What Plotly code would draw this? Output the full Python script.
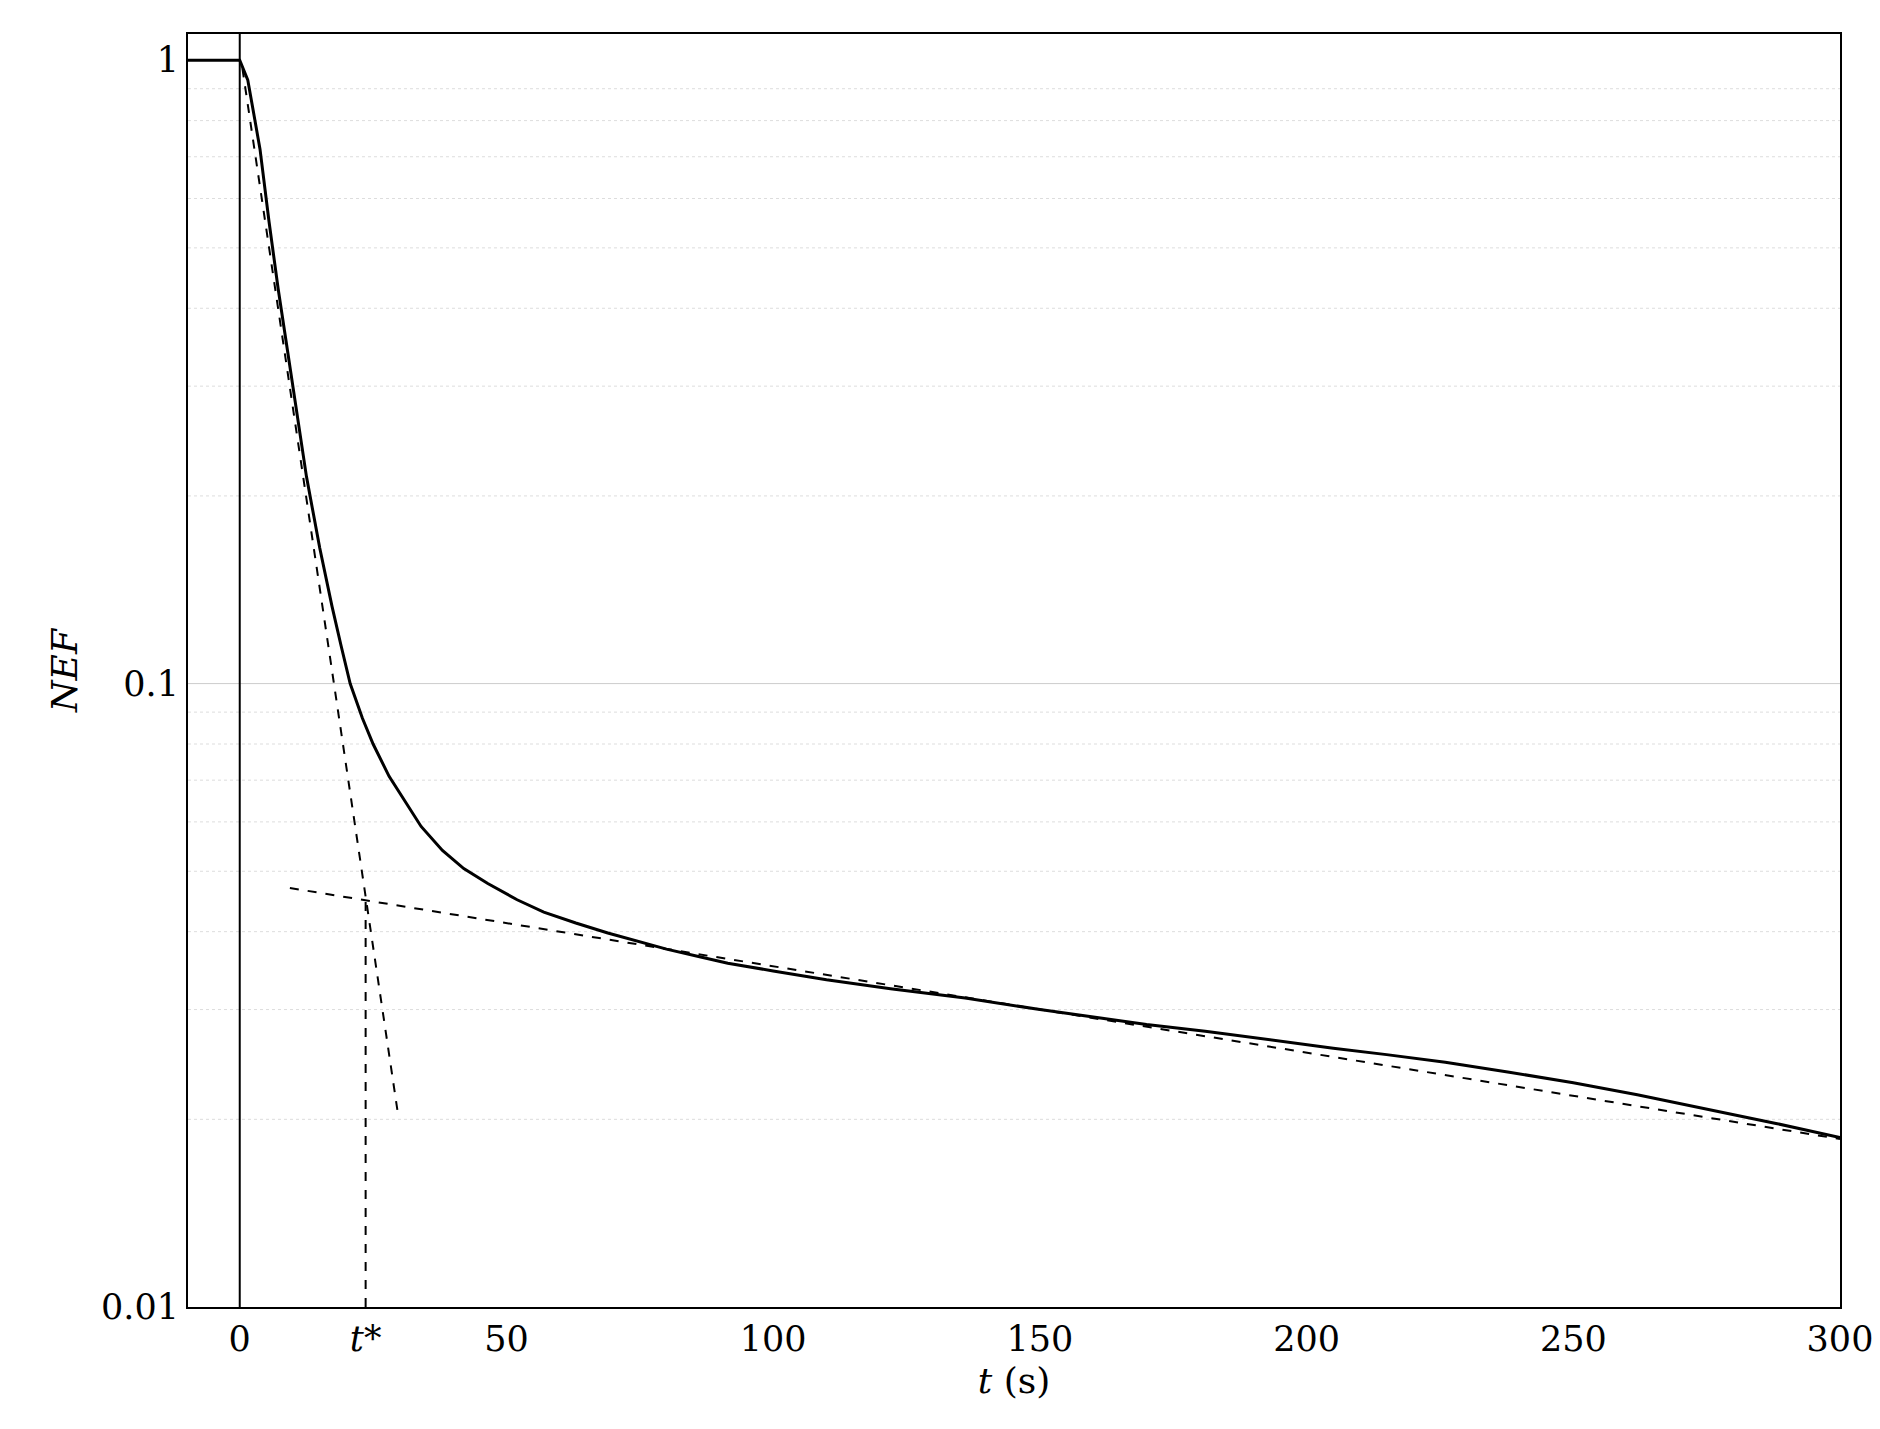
import plotly.graph_objects as go

# NEF decay curve
t_curve = [-10, 0, 1.5, 3.8, 5.5, 7.2, 9, 10.6, 12.5, 15, 17.3, 19, 20.7, 23, 25, 28, 30.8, 34, 38, 42, 46.5, 52, 57, 63, 69, 75, 80, 86, 91.5, 100, 110, 122, 136, 150, 160, 170, 181, 193, 205, 215, 226, 238, 250, 262, 275, 288, 300]
nef_curve = [1, 1, 0.93, 0.72, 0.55, 0.43, 0.34, 0.275, 0.215, 0.165, 0.133, 0.115, 0.100, 0.088, 0.080, 0.071, 0.065, 0.059, 0.054, 0.0505, 0.0478, 0.0450, 0.0430, 0.0413, 0.0398, 0.0385, 0.0375, 0.0365, 0.0356, 0.0346, 0.0335, 0.0324, 0.0313, 0.0300, 0.0292, 0.0284, 0.0277, 0.0268, 0.0260, 0.0254, 0.0247, 0.0238, 0.0229, 0.0219, 0.0208, 0.0197, 0.0187]

# tangent lines
steep_t = [0.5, 29.7]
steep_nef = [0.97, 0.0203]
slow_t = [9.4, 300]
slow_nef = [0.047, 0.0186]
t_star = 23.6
t_star_nef = [0.01, 0.046]

tick_vals = [0, t_star, 50, 100, 150, 200, 250, 300]
tick_text = ["0", "<i>t</i>*", "50", "100", "150", "200", "250", "300"]
grid_levels = [0.02, 0.03, 0.04, 0.05, 0.06, 0.07, 0.08, 0.09, 0.2, 0.3, 0.4, 0.5, 0.6, 0.7, 0.8, 0.9]

fig = go.Figure()

shapes = []
for g in grid_levels:
    shapes.append(dict(type="line", xref="paper", yref="y", x0=0, x1=1, y0=g, y1=g,
                       line=dict(color="#dddddd", width=1, dash="dot"), layer="below"))
shapes.append(dict(type="line", xref="paper", yref="y", x0=0, x1=1, y0=0.1, y1=0.1,
                   line=dict(color="#cccccc", width=1), layer="below"))
# vertical line at t = 0
shapes.append(dict(type="line", xref="x", yref="paper", x0=0, x1=0, y0=0, y1=1,
                   line=dict(color="black", width=2)))

fig.add_trace(go.Scatter(x=t_curve, y=nef_curve, mode="lines", line=dict(color="black", width=3)))
fig.add_trace(go.Scatter(x=steep_t, y=steep_nef, mode="lines", line=dict(color="black", width=2, dash="dash")))
fig.add_trace(go.Scatter(x=slow_t, y=slow_nef, mode="lines", line=dict(color="black", width=2, dash="dash")))
fig.add_trace(go.Scatter(x=[t_star, t_star], y=t_star_nef, mode="lines", line=dict(color="black", width=2, dash="dash")))

font = "DejaVu Serif"
fig.update_xaxes(range=[-9.7, 300], tickvals=tick_vals, ticktext=tick_text, showgrid=False, zeroline=False,
                 showline=True, mirror=True, linecolor="black", linewidth=2, ticks="",
                 title=dict(text="<i>t</i> (s)", font=dict(size=36, family=font, color="black"), standoff=10),
                 tickfont=dict(size=35, family=font, color="black"))
fig.update_yaxes(type="log", range=[-2, 0.042], tickvals=[0.01, 0.1, 1], ticktext=["0.01", "0.1", "1"],
                 showgrid=False, zeroline=False, showline=True, mirror=True, linecolor="black", linewidth=2, ticks="",
                 title=dict(text="<i>NEF</i>", font=dict(size=36, family=font, color="black"), standoff=12),
                 tickfont=dict(size=35, family=font, color="black"))
fig.update_layout(shapes=shapes, width=1880, height=1429, showlegend=False,
                  plot_bgcolor="white", paper_bgcolor="white",
                  margin=dict(l=180, r=48, t=26, b=130))

fig.write_html("out.html")
